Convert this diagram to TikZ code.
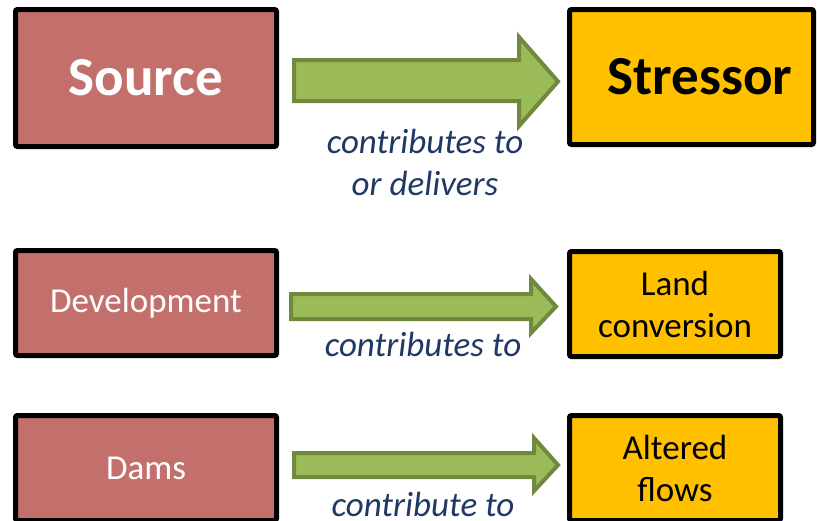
\documentclass[tikz,border=0pt]{standalone}
\usepackage{fontspec}
\setmainfont{Carlito}
\definecolor{srcfill}{HTML}{C3706D}
\definecolor{strfill}{HTML}{FFC000}
\definecolor{arrfill}{HTML}{9BBB59}
\definecolor{arrline}{HTML}{71893F}
\definecolor{lblcol}{HTML}{1F3864}
\tikzset{
  boxbase/.style={draw=black, line width=5pt, rounded corners=2pt, inner sep=0pt, outer sep=0pt, align=center},
  srcbox/.style={boxbase, fill=srcfill, text=white},
  strbox/.style={boxbase, fill=strfill, text=black},
  bigtext/.style={font=\fontsize{55}{60}\selectfont\bfseries},
  midtext/.style={font=\fontsize{35}{42}\selectfont},
  blockarrow/.style={draw=arrline, fill=arrfill, line width=4pt, line join=miter},
  lbl/.style={text=lblcol, font=\fontsize{35}{42}\selectfont\itshape, align=center, inner sep=0pt}
}
\begin{document}
\begin{tikzpicture}[x=1pt, y=-1pt]
\useasboundingbox (0,0) rectangle (817,520);
% row 1
\node[srcbox, bigtext, minimum width=261pt, minimum height=137pt] (src) at (146,78) {Source};
\node[strbox, bigtext, minimum width=244pt, minimum height=135pt] (str) at (691.5,77) {\hspace*{17pt}Stressor};
\draw[blockarrow] (294,60) -- (519,60) -- (519,37) -- (558,81.5) -- (519,126) -- (519,101) -- (294,101) -- cycle;
\node[lbl, anchor=base] (l1) at (425,195) {contributes to\\or delivers};
% row 2
\node[srcbox, midtext, minimum width=261pt, minimum height=105pt] (dev) at (146,303) {Development};
\node[strbox, midtext, minimum width=211pt, minimum height=105pt] (land) at (675,304) {Land\\conversion};
\draw[blockarrow] (291,294) -- (531,294) -- (531,279) -- (556,306.5) -- (531,333) -- (531,319) -- (291,319) -- cycle;
\node[lbl, anchor=base] (l2) at (423,356) {contributes to};
% row 3
\node[srcbox, midtext, minimum width=261pt, minimum height=105pt] (dams) at (146,468) {Dams};
\node[strbox, midtext, minimum width=211pt, minimum height=105pt] (alt) at (675,468) {Altered\\flows};
\draw[blockarrow] (294,453) -- (534,453) -- (534,438) -- (558,465) -- (534,491) -- (534,477) -- (294,477) -- cycle;
\node[lbl, anchor=base] (l3) at (423,516) {contribute to};
\end{tikzpicture}
\end{document}
